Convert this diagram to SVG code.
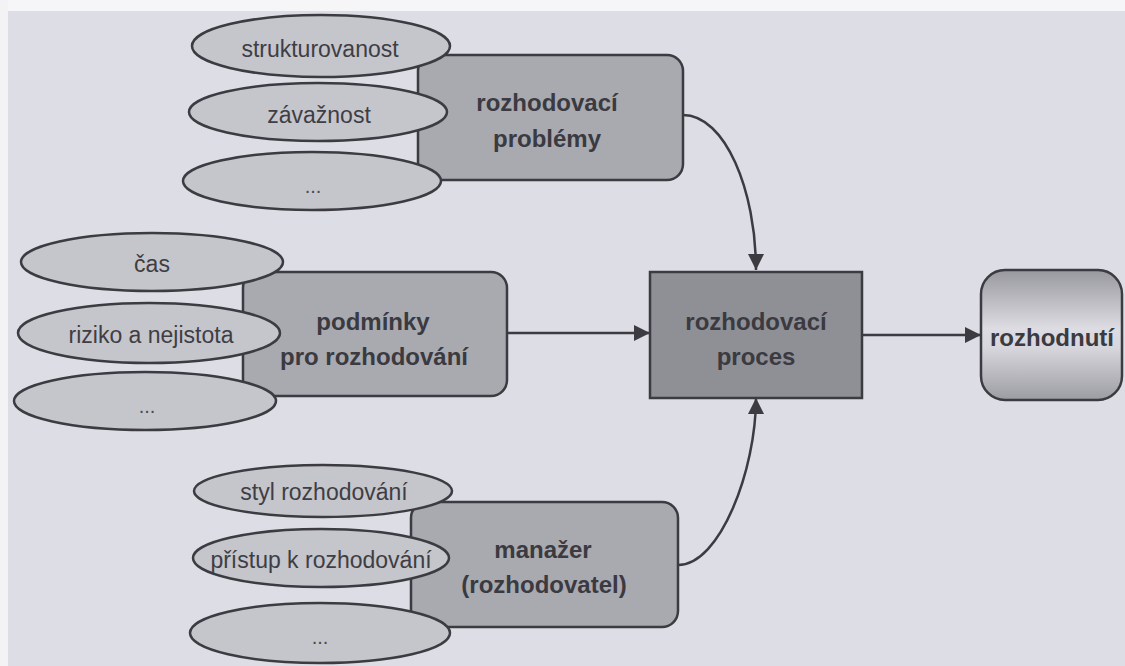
<svg xmlns="http://www.w3.org/2000/svg" width="1125" height="666" viewBox="0 0 1125 666">
  <defs>
    <style>
      .oval { fill: #c5c5cc; stroke: #3b3b41; stroke-width: 2.5; }
      .box { fill: #a9a9b0; stroke: #3b3b41; stroke-width: 2.5; }
      .core { fill: #8f8f96; stroke: #3b3b41; stroke-width: 2.5; }
      .out { fill: url(#outFill); stroke: #3b3b41; stroke-width: 2.5; }
      .small { font-family: "Liberation Sans", Arial, sans-serif; font-size: 23px; fill: #3e3e44; text-anchor: middle; }
      .big { font-family: "Liberation Sans", Arial, sans-serif; font-size: 24px; font-weight: bold; fill: #3a3a40; text-anchor: middle; }
      .dots { font-family: "Liberation Sans", Arial, sans-serif; font-size: 20px; fill: #4a4a50; text-anchor: middle; }
      .link { fill: none; stroke: #3b3b41; stroke-width: 2.5; }
    </style>
    <linearGradient id="outFill" x1="0" y1="0" x2="0" y2="1">
      <stop offset="0" stop-color="#98989f"/>
      <stop offset="0.45" stop-color="#dcdce2"/>
      <stop offset="0.6" stop-color="#d6d6dc"/>
      <stop offset="1" stop-color="#9c9ca3"/>
    </linearGradient>
    <marker id="head" viewBox="0 0 16 16" refX="16" refY="8" markerWidth="16" markerHeight="16" markerUnits="userSpaceOnUse" orient="auto">
      <path d="M0,0 L16,8 L0,16 z" fill="#3b3b41"/>
    </marker>
  </defs>

  <!-- paper -->
  <rect x="0" y="0" width="1125" height="666" fill="#dddde6"/>
  <rect x="0" y="0" width="1125" height="11" fill="#f6f6f8"/>
  <rect x="0" y="0" width="8" height="666" fill="#f3f3f6"/>

  <!-- connectors -->
  <g id="connectors">
    <path class="link" d="M683,115 C725,115 756,190 756,270" marker-end="url(#head)"/>
    <path class="link" d="M507,333 L650,333" marker-end="url(#head)"/>
    <path class="link" d="M678,565 C720,565 756,470 756,398" marker-end="url(#head)"/>
    <path class="link" d="M862,335 L981,335" marker-end="url(#head)"/>
  </g>

  <!-- decision problems -->
  <g id="problemy">
    <rect class="box" x="418" y="55" width="265" height="125" rx="16"/>
    <text class="big" x="547" y="111">rozhodovací</text>
    <text class="big" x="547" y="147">problémy</text>
  </g>
  <g id="strukturovanost">
    <ellipse class="oval" cx="321" cy="46" rx="129" ry="31"/>
    <text class="small" x="320" y="57">strukturovanost</text>
  </g>
  <g id="zavaznost">
    <ellipse class="oval" cx="318" cy="112" rx="129" ry="29"/>
    <text class="small" x="319" y="123">závažnost</text>
  </g>
  <g id="problemy-dalsi">
    <ellipse class="oval" cx="312" cy="181" rx="129" ry="29"/>
    <text class="dots" x="313" y="193">...</text>
  </g>

  <!-- conditions -->
  <g id="podminky">
    <rect class="box" x="243" y="272" width="264" height="124" rx="16"/>
    <text class="big" x="373" y="330">podmínky</text>
    <text class="big" x="374" y="365">pro rozhodování</text>
  </g>
  <g id="cas">
    <ellipse class="oval" cx="152" cy="262" rx="131" ry="29"/>
    <text class="small" x="152" y="272">čas</text>
  </g>
  <g id="riziko">
    <ellipse class="oval" cx="149" cy="333" rx="131" ry="30"/>
    <text class="small" x="151" y="343">riziko a nejistota</text>
  </g>
  <g id="podminky-dalsi">
    <ellipse class="oval" cx="145" cy="401" rx="131" ry="29"/>
    <text class="dots" x="147" y="413">...</text>
  </g>

  <!-- manager -->
  <g id="manazer">
    <rect class="box" x="411" y="502" width="267" height="125" rx="16"/>
    <text class="big" x="543" y="558">manažer</text>
    <text class="big" x="544" y="593">(rozhodovatel)</text>
  </g>
  <g id="styl">
    <ellipse class="oval" cx="323" cy="491" rx="129" ry="26"/>
    <text class="small" x="324" y="500">styl rozhodování</text>
  </g>
  <g id="pristup">
    <ellipse class="oval" cx="321" cy="558" rx="128" ry="29"/>
    <text class="small" x="321" y="568">přístup k rozhodování</text>
  </g>
  <g id="manazer-dalsi">
    <ellipse class="oval" cx="320" cy="633" rx="130" ry="30"/>
    <text class="dots" x="320" y="644">...</text>
  </g>

  <!-- process -->
  <g id="proces">
    <rect class="core" x="650" y="272" width="212" height="126"/>
    <text class="big" x="756" y="330">rozhodovací</text>
    <text class="big" x="756" y="365">proces</text>
  </g>

  <!-- decision -->
  <g id="rozhodnuti">
    <rect class="out" x="981" y="270" width="141" height="130" rx="24"/>
    <text class="big" x="1052" y="346" font-size="26">rozhodnutí</text>
  </g>
</svg>
